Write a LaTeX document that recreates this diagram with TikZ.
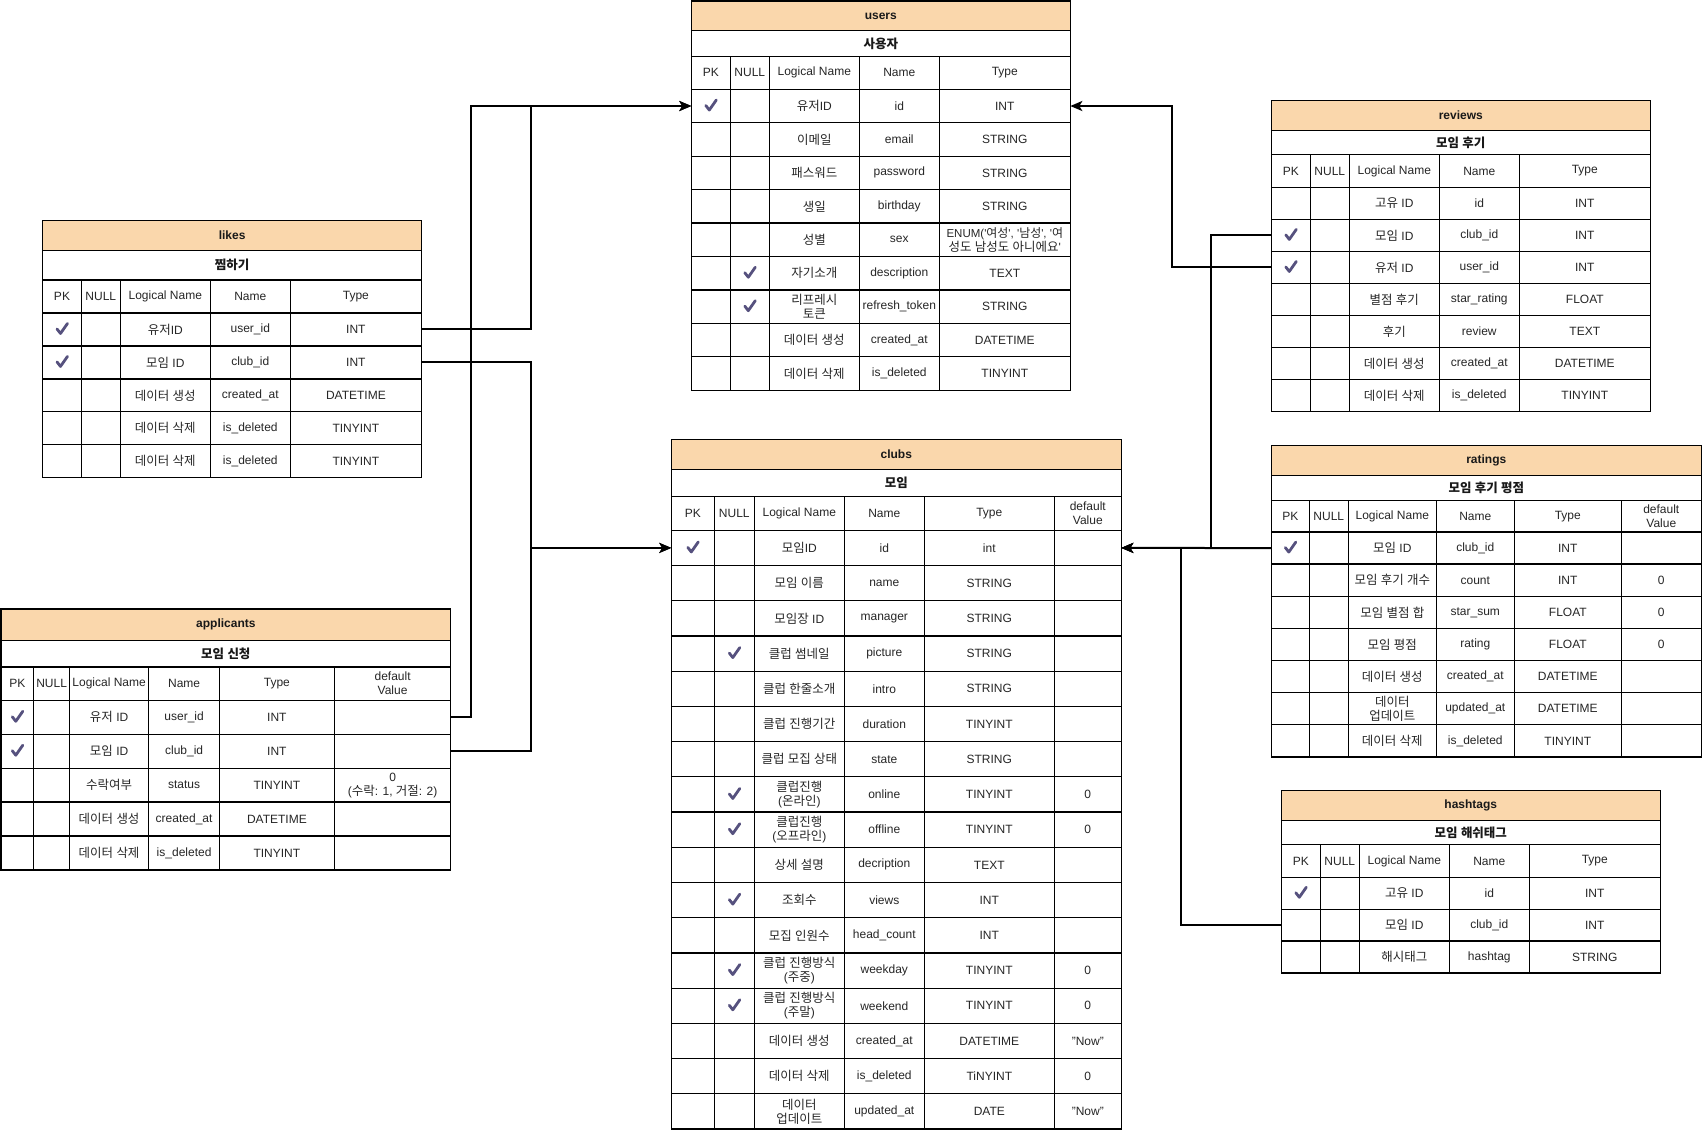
\documentclass[tikz,border=0pt]{standalone}
\usepackage{fontspec}
\setmainfont{Liberation Sans}
\newfontfamily\lafont{Liberation Sans}
\newfontfamily\krfont{Noto Sans CJK KR}[Scale=1.04]
\usetikzlibrary{arrows.meta}
\chardef\hangulclass=77
\newcount\hgc
\hgc="AC00
\loop
  \XeTeXcharclass\hgc=\hangulclass
  \ifnum\hgc<"D7A3 \advance\hgc by 1
\repeat
\XeTeXinterchartokenstate=1
\XeTeXinterchartoks 0 \hangulclass = {\krfont}
\XeTeXinterchartoks 1 \hangulclass = {\krfont}
\XeTeXinterchartoks 2 \hangulclass = {\krfont}
\XeTeXinterchartoks 3 \hangulclass = {\krfont}
\XeTeXinterchartoks 4095 \hangulclass = {\krfont}
\XeTeXinterchartoks \hangulclass 0 = {\lafont}
\XeTeXinterchartoks \hangulclass 1 = {\lafont}
\XeTeXinterchartoks \hangulclass 2 = {\lafont}
\XeTeXinterchartoks \hangulclass 3 = {\lafont}
\XeTeXinterchartoks \hangulclass 4095 = {\lafont}
\definecolor{hdrfill}{RGB}{250,215,172}
\definecolor{chkc}{RGB}{86,81,126}
\tikzset{
  tline/.style={draw=black, line width=1.3pt},
  conn/.style={draw=black, line width=2pt, -{Stealth[length=12pt,width=10pt,inset=3pt]}},
  ecell/.style={inner sep=0pt, outer sep=0pt, align=center, font=\fontsize{12}{14}\selectfont, text=black!85},
  ttl/.style={ecell, font=\fontsize{12}{14}\selectfont\bfseries, text=black!90},
  rowbox/.style={inner sep=0pt, outer sep=0pt, draw=none, rectangle},
  chk/.pic={\draw[chkc, line width=2.8pt, line cap=round, line join=round] (-5,-0.5) -- (-1.5,4) -- (5.5,-6);}
}
\newcommand\setT[8]{\def\tL{#1}\def\tR{#2}\def\tT{#3}\def\tA{#4}\def\tB{#5}\def\tC{#6}\def\tH{#7}\def\tN{#8}%
  \pgfmathsetmacro\tE{#6+#8*#7}}
\newcommand\setC[6]{\def\cA{#1}\def\cB{#2}\def\cC{#3}\def\cD{#4}\def\cE{#5}\def\cF{#6}}
\newcommand\frameT[4]{%
  \draw[tline, fill=hdrfill] (\tL,\tT) rectangle (\tR,\tA);
  \node[ttl] (#1) at ({(\tL+\tR)/2},{(\tT+\tA)/2}) {#2};
  \draw[tline] (\tL,\tA) rectangle (\tR,\tE);
  \node[ttl] (#1-sub) at ({(\tL+\tR)/2},{(\tA+\tB)/2}) {#3};
  \draw[tline] (\tL,\tB) -- (\tR,\tB);
  \foreach \k in {0,...,\tN} {\draw[tline] (\tL,{\tC+\k*\tH}) -- (\tR,{\tC+\k*\tH});}
  \foreach \x in {#4} {\draw[tline] (\x,\tB) -- (\x,\tE);}
}
\newcommand\hdrT[1]{%
  \pgfmathsetmacro\hy{(\tB+\tC)/2}
  \node[ecell] (#1-hpk) at (\cA,\hy) {PK};
  \node[ecell] (#1-hnull) at (\cB,\hy) {NULL};
  \node[ecell] (#1-hlog) at (\cC,\hy) {Logical Name};
  \node[ecell] (#1-hname) at (\cD,\hy) {Name};
  \node[ecell] (#1-htype) at (\cE,\hy) {Type};
  \ifx\cF\empty\else\node[ecell] (#1-hdef) at (\cF,\hy) {default\\Value};\fi
}
\newcommand\rowT[9]{%
  \pgfmathsetmacro\ry{\tC+(#2-0.5)*\tH}
  \node[rowbox, minimum width={(\tR-\tL)*1pt}, minimum height={\tH*1pt}] (#1-#3) at ({(\tL+\tR)/2},\ry) {};
  \ifnum#4=1 \pic at (\cA,\ry) {chk};\fi
  \ifnum#5=1 \pic at (\cB,\ry) {chk};\fi
  \node[ecell] (#1-#3-log) at (\cC,\ry) {#6};
  \node[ecell] (#1-#3-nm) at (\cD,\ry) {#7};
  \node[ecell] (#1-#3-ty) at (\cE,\ry) {#8};
  \ifx\cF\empty\else\node[ecell] (#1-#3-df) at (\cF,\ry) {#9};\fi
}
\begin{document}
\begin{tikzpicture}[x=1pt,y=-1pt]
\useasboundingbox (0,0) rectangle (1703,1131);
\fill[white] (0,0) rectangle (1703,1131);

% users
\setT{691.3}{1070.3}{1}{30.7}{56.3}{89.3}{33.44}{9}
\setC{710.8}{749.8}{814.3}{899.3}{1004.8}{}
\frameT{users}{users}{사용자}{730.3,769.3,859.3,939.3}
\hdrT{users}
\rowT{users}{1}{id}{1}{0}{유저ID}{id}{INT}{}
\rowT{users}{2}{email}{0}{0}{이메일}{email}{STRING}{}
\rowT{users}{3}{pw}{0}{0}{패스워드}{password}{STRING}{}
\rowT{users}{4}{bd}{0}{0}{생일}{birthday}{STRING}{}
\rowT{users}{5}{sex}{0}{0}{성별}{sex}{\fontsize{11.5}{14}\selectfont ENUM(\textquotesingle 여성\textquotesingle, \textquotesingle 남성\textquotesingle, \textquotesingle 여\\성도 남성도 아니에요\textquotesingle}{}
\rowT{users}{6}{desc}{0}{1}{자기소개}{description}{TEXT}{}
\rowT{users}{7}{rt}{0}{1}{리프레시\\토큰}{refresh\_token}{STRING}{}
\rowT{users}{8}{cr}{0}{0}{데이터 생성}{created\_at}{DATETIME}{}
\rowT{users}{9}{del}{0}{0}{데이터 삭제}{is\_deleted}{TINYINT}{}

% reviews
\setT{1271.3}{1650.3}{100.7}{130.3}{154.7}{187.3}{32.06}{7}
\setC{1290.8}{1329.8}{1394.3}{1479.3}{1584.8}{}
\frameT{reviews}{reviews}{모임 후기}{1310.3,1349.3,1439.3,1519.3}
\hdrT{reviews}
\rowT{reviews}{1}{id}{0}{0}{고유 ID}{id}{INT}{}
\rowT{reviews}{2}{cid}{1}{0}{모임 ID}{club\_id}{INT}{}
\rowT{reviews}{3}{uid}{1}{0}{유저 ID}{user\_id}{INT}{}
\rowT{reviews}{4}{star}{0}{0}{별점 후기}{star\_rating}{FLOAT}{}
\rowT{reviews}{5}{rev}{0}{0}{후기}{review}{TEXT}{}
\rowT{reviews}{6}{cr}{0}{0}{데이터 생성}{created\_at}{DATETIME}{}
\rowT{reviews}{7}{del}{0}{0}{데이터 삭제}{is\_deleted}{TINYINT}{}

% likes
\setT{42.7}{421.5}{220.7}{250.3}{280}{313}{32.94}{5}
\setC{62}{100.8}{165.3}{250.3}{355.9}{}
\frameT{likes}{likes}{찜하기}{81.3,120.3,210.3,290.3}
\hdrT{likes}
\rowT{likes}{1}{uid}{1}{0}{유저ID}{user\_id}{INT}{}
\rowT{likes}{2}{cid}{1}{0}{모임 ID}{club\_id}{INT}{}
\rowT{likes}{3}{cr}{0}{0}{데이터 생성}{created\_at}{DATETIME}{}
\rowT{likes}{4}{dela}{0}{0}{데이터 삭제}{is\_deleted}{TINYINT}{}
\rowT{likes}{5}{delb}{0}{0}{데이터 삭제}{is\_deleted}{TINYINT}{}

% applicants
\setT{1}{450.7}{609}{640.3}{667}{700.3}{33.94}{5}
\setC{17.3}{51.6}{109.1}{184.1}{276.9}{392.6}
\frameT{applicants}{applicants}{모임 신청}{33.7,69.5,148.8,219.4,334.5}
\hdrT{applicants}
\rowT{applicants}{1}{uid}{1}{0}{유저 ID}{user\_id}{INT}{}
\rowT{applicants}{2}{cid}{1}{0}{모임 ID}{club\_id}{INT}{}
\rowT{applicants}{3}{st}{0}{0}{수락여부}{status}{TINYINT}{0\\(수락: 1, 거절: 2)}
\rowT{applicants}{4}{cr}{0}{0}{데이터 생성}{created\_at}{DATETIME}{}
\rowT{applicants}{5}{del}{0}{0}{데이터 삭제}{is\_deleted}{TINYINT}{}

% clubs
\setT{671.3}{1121.3}{439.3}{469.3}{496.7}{530.3}{35.22}{17}
\setC{692.8}{734.3}{799.3}{884.3}{989.3}{1087.8}
\frameT{clubs}{clubs}{모임}{714.3,754.3,844.3,924.3,1054.3}
\hdrT{clubs}
\rowT{clubs}{1}{id}{1}{0}{모임ID}{id}{int}{}
\rowT{clubs}{2}{name}{0}{0}{모임 이름}{name}{STRING}{}
\rowT{clubs}{3}{mgr}{0}{0}{모임장 ID}{manager}{STRING}{}
\rowT{clubs}{4}{pic}{0}{1}{클럽 썸네일}{picture}{STRING}{}
\rowT{clubs}{5}{intro}{0}{0}{클럽 한줄소개}{intro}{STRING}{}
\rowT{clubs}{6}{dur}{0}{0}{클럽 진행기간}{duration}{TINYINT}{}
\rowT{clubs}{7}{state}{0}{0}{클럽 모집 상태}{state}{STRING}{}
\rowT{clubs}{8}{on}{0}{1}{클럽진행\\(온라인)}{online}{TINYINT}{0}
\rowT{clubs}{9}{off}{0}{1}{클럽진행\\(오프라인)}{offline}{TINYINT}{0}
\rowT{clubs}{10}{desc}{0}{0}{상세 설명}{decription}{TEXT}{}
\rowT{clubs}{11}{views}{0}{1}{조회수}{views}{INT}{}
\rowT{clubs}{12}{hc}{0}{0}{모집 인원수}{head\_count}{INT}{}
\rowT{clubs}{13}{wd}{0}{1}{클럽 진행방식\\(주중)}{weekday}{TINYINT}{0}
\rowT{clubs}{14}{we}{0}{1}{클럽 진행방식\\(주말)}{weekend}{TINYINT}{0}
\rowT{clubs}{15}{cr}{0}{0}{데이터 생성}{created\_at}{DATETIME}{"Now"}
\rowT{clubs}{16}{del}{0}{0}{데이터 삭제}{is\_deleted}{TiNYINT}{0}
\rowT{clubs}{17}{up}{0}{0}{데이터\\업데이트}{updated\_at}{DATE}{"Now"}

% ratings
\setT{1271.3}{1701.3}{445.3}{475.3}{500.3}{532}{32.14}{7}
\setC{1290.3}{1328.8}{1392.3}{1475.3}{1567.8}{1661.3}
\frameT{ratings}{ratings}{모임 후기 평점}{1309.3,1348.3,1436.3,1514.3,1621.3}
\hdrT{ratings}
\rowT{ratings}{1}{cid}{1}{0}{모임 ID}{club\_id}{INT}{}
\rowT{ratings}{2}{cnt}{0}{0}{모임 후기 개수}{count}{INT}{0}
\rowT{ratings}{3}{sum}{0}{0}{모임 별점 합}{star\_sum}{FLOAT}{0}
\rowT{ratings}{4}{rat}{0}{0}{모임 평점}{rating}{FLOAT}{0}
\rowT{ratings}{5}{cr}{0}{0}{데이터 생성}{created\_at}{DATETIME}{}
\rowT{ratings}{6}{up}{0}{0}{데이터\\업데이트}{updated\_at}{DATETIME}{}
\rowT{ratings}{7}{del}{0}{0}{데이터 삭제}{is\_deleted}{TINYINT}{}

% hashtags
\setT{1281.3}{1660.3}{790.7}{820.3}{844.7}{877.3}{31.9}{3}
\setC{1300.8}{1339.8}{1404.3}{1489.3}{1594.8}{}
\frameT{hashtags}{hashtags}{모임 해쉬태그}{1320.3,1359.3,1449.3,1529.3}
\hdrT{hashtags}
\rowT{hashtags}{1}{id}{1}{0}{고유 ID}{id}{INT}{}
\rowT{hashtags}{2}{cid}{0}{0}{모임 ID}{club\_id}{INT}{}
\rowT{hashtags}{3}{tag}{0}{0}{해시태그}{hashtag}{STRING}{}

% connectors
\coordinate (busA) at (471,0);
\coordinate (busB) at (531,0);
\coordinate (busC) at (1171.7,0);
\coordinate (busD) at (1211,0);
\coordinate (busE) at (1181,0);
\draw[conn] (likes-uid.east) -- (likes-uid.east -| busB) |- (users-id.west);
\draw[conn] (applicants-uid.east) -- (applicants-uid.east -| busA) |- (users-id.west);
\draw[conn] (likes-cid.east) -- (likes-cid.east -| busB) |- (clubs-id.west);
\draw[conn] (applicants-cid.east) -- (applicants-cid.east -| busB) |- (clubs-id.west);
\draw[conn] (reviews-uid.west) -- (reviews-uid.west -| busC) |- (users-id.east);
\draw[conn] (reviews-cid.west) -- (reviews-cid.west -| busD) |- (clubs-id.east);
\draw[conn] (ratings-cid.west) -- (clubs-id.east);
\draw[conn] (hashtags-cid.west) -- (hashtags-cid.west -| busE) |- (clubs-id.east);
\end{tikzpicture}
\end{document}
